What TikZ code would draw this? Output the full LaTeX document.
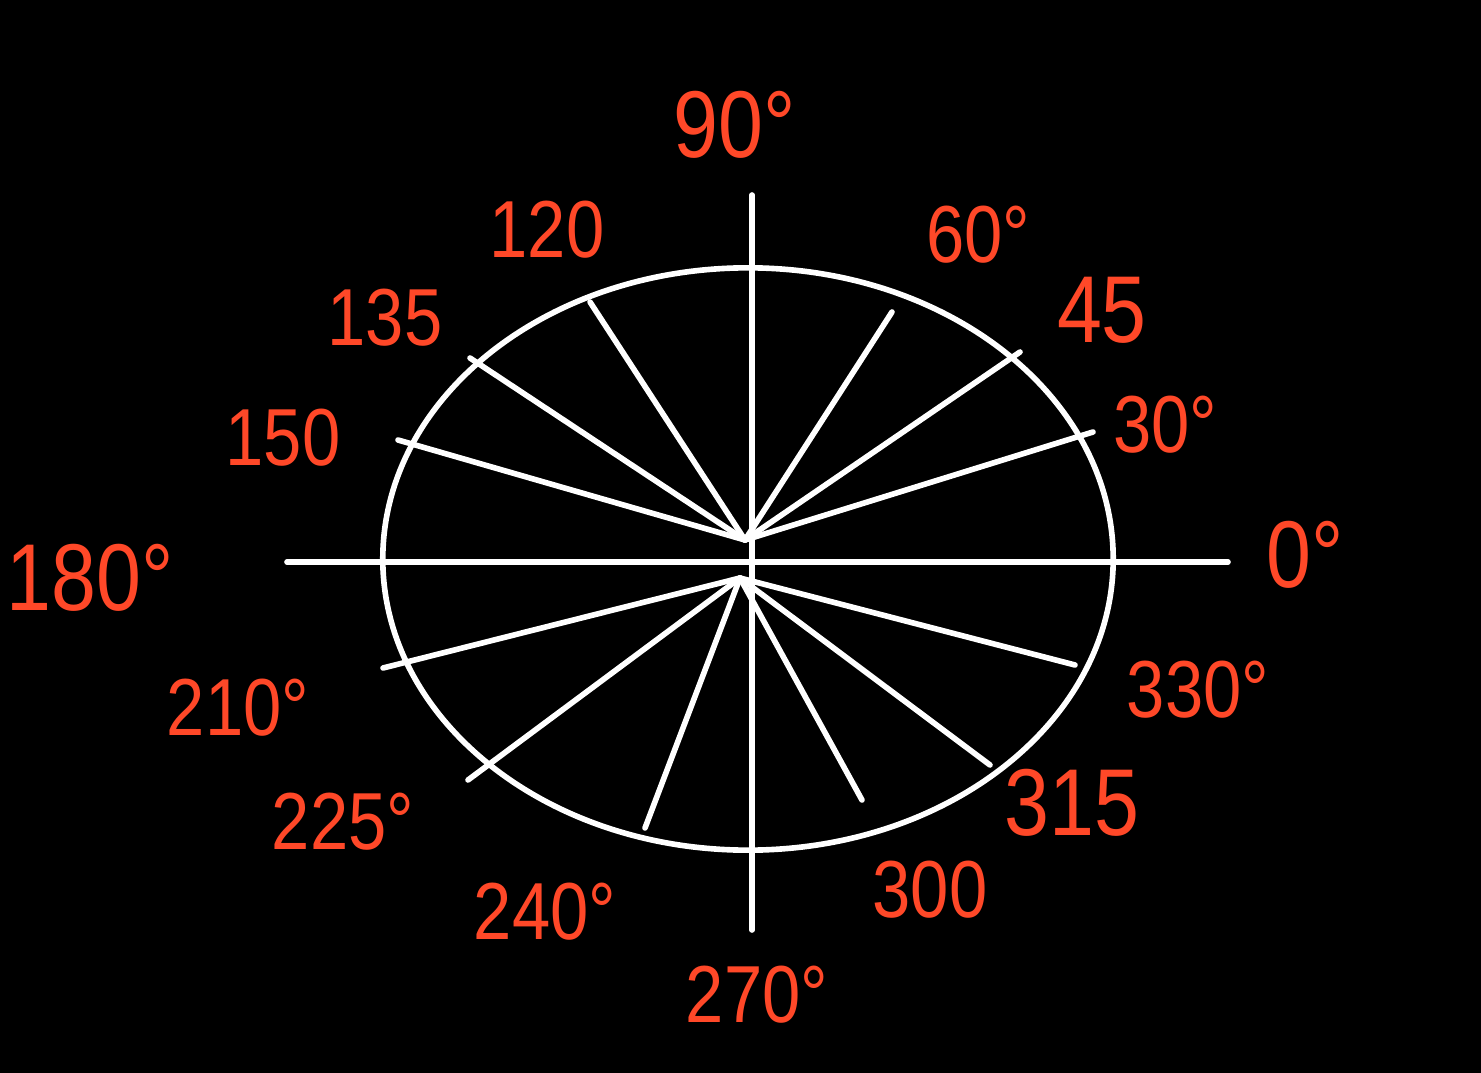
\documentclass[tikz,border=0pt]{standalone}
\usepackage{fontspec}
\setmainfont[FakeStretch=0.85]{Liberation Sans}
\definecolor{lab}{RGB}{255,72,40}
\begin{document}
\begin{tikzpicture}[x=0.01cm,y=-0.01cm,
  wl/.style={white,line width=1.6pt,line cap=round,line join=round},
  lbl/.style={text=lab,font=\fontsize{23}{25}\selectfont,inner sep=0pt},
  big/.style={text=lab,font=\fontsize{27}{29}\selectfont,inner sep=0pt}]
\fill[black] (0,0) rectangle (1481,1073);
\useasboundingbox (0,0) rectangle (1481,1073);
% centres
\coordinate (c) at (748,559);
\coordinate (o) at (745,540);
\coordinate (u) at (740,578);
% ellipse and axes
\draw[wl] (c) ellipse [x radius=3.65cm, y radius=2.91cm];
\coordinate (xl) at (287,562);
\coordinate (xr) at (1228,562);
\coordinate (yt) at (752,195);
\coordinate (yb) at (752,930);
\draw[wl] (xl) -- (xr);
\draw[wl] (yt) -- (yb);
% radial end points
\coordinate (p30) at (1093,432);
\coordinate (p45) at (1020,352);
\coordinate (p60) at (892,312);
\coordinate (p120) at (590,302);
\coordinate (p135) at (470,358);
\coordinate (p150) at (398,440);
\coordinate (p210) at (383,668);
\coordinate (p225) at (468,780);
\coordinate (p240) at (645,828);
\coordinate (p300) at (862,800);
\coordinate (p315) at (990,765);
\coordinate (p330) at (1075,665);
\foreach \p in {p30,p45,p60,p120,p135,p150} \draw[wl] (o) -- (\p);
\foreach \p in {p210,p225,p240,p300,p315,p330} \draw[wl] (u) -- (\p);
% labels
\node[big] (l90) at (735,125) {90°};
\node[lbl] (l60) at (978,235) {60°};
\node[big] (l45) at (1102,310) {45};
\node[lbl] (l30) at (1165,425) {30°};
\node[big] (l0) at (1305,555) {0°};
\node[lbl] (l330) at (1198,690) {330°};
\node[big] (l315) at (1072,803) {315};
\node[lbl] (l300) at (930,890) {300};
\node[lbl] (l270) at (757,995) {270°};
\node[lbl] (l240) at (545,912) {240°};
\node[lbl] (l225) at (343,822) {225°};
\node[lbl] (l210) at (238,708) {210°};
\node[big] (l180) at (90,578) {180°};
\node[lbl] (l150) at (283,438) {150};
\node[lbl] (l135) at (385,318) {135};
\node[lbl] (l120) at (547,230) {120};
\end{tikzpicture}
\end{document}
